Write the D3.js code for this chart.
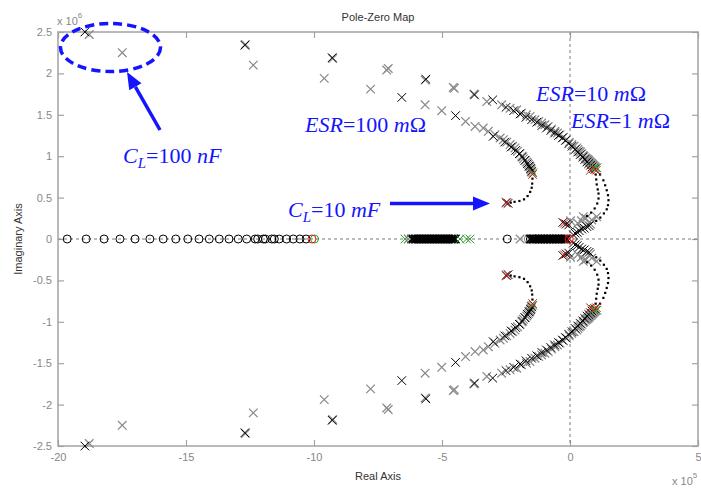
<!DOCTYPE html>
<html><head><meta charset="utf-8">
<script src="https://cdn.jsdelivr.net/npm/d3@7"></script>
<style>body{margin:0;background:#fff}svg{display:block}</style>
</head><body>
<svg id="c" width="701" height="488"></svg>
<script>
// ---- data (real part in 1e5, imaginary part in 1e6) ----
const xTicks = [-20, -15, -10, -5, 0, 5];
const yTicks = [-2.5, -2, -1.5, -1, -0.5, 0, 0.5, 1, 1.5, 2, 2.5];

// zeros on the real axis
const zerosBlack = [-19.64, -18.9, -18.2, -17.58, -16.99, -16.41, -15.89, -15.4, -14.93, -14.49, -14.09, -13.7, -13.32, -12.96, -12.63, -12.3, -12.2, -11.98, -11.9, -11.65, -11.55, -11.36, -11.07, -10.81, -10.55, -10.31, -2.45, -1.55];
const zerosGray = [-1.63];
const zerosRed = [-10.08, -0.03];
const zerosGreen = [-9.98];

// real-axis poles
const realPolesBlack = [-6.18, -6.12, -6.05, -5.99, -5.93, -5.86, -5.8, -5.74, -5.67, -5.61, -5.55, -5.48, -5.42, -5.36, -5.3, -5.23, -5.17, -5.11, -5.04, -4.98, -4.92, -4.85, -4.79, -4.73, -4.66, -4.6, -4.54, -4.48,
  -1.56, -1.5, -1.44, -1.38, -1.32, -1.26, -1.2, -1.14, -1.08, -1.02, -0.96, -0.9, -0.84, -0.78, -0.72, -0.66, -0.6, -0.54, -0.48, -0.42, -0.36, -0.3, -0.24, -0.18, -0.13];
const realPolesGray = [-6.32, -1.95];
const realPolesGreen = [-6.45, -4.3, -4.04, -3.91];
const realPolesRed = [-0.03];

// complex poles, upper half (mirrored below)
const outerGray = [[-18.78, 2.47], [-12.68, 2.35], [-9.27, 2.18], [-7.10, 2.06], [-7.16, 2.04], [-5.66, 1.92], [-4.56, 1.83], [-4.52, 1.82], [-3.75, 1.75], [-3.25, 1.66], [-2.67, 1.62], [-2.34, 1.58], [-2.08, 1.56], [-1.89, 1.52], [-1.70, 1.50], [-1.56, 1.48], [-1.37, 1.44], [-1.22, 1.42], [-1.11, 1.40], [-0.98, 1.38], [-0.85, 1.36], [-0.72, 1.33], [-0.59, 1.30], [-0.49, 1.28], [-0.39, 1.26], [-0.26, 1.23], [-0.13, 1.20], [-0.03, 1.17], [0.07, 1.14], [0.16, 1.12], [0.26, 1.10], [0.31, 1.08], [0.36, 1.06], [0.41, 1.05], [0.46, 1.03], [0.51, 1.01], [0.55, 1.00], [0.60, 0.98], [0.65, 0.97], [0.69, 0.96], [0.72, 0.95], [0.75, 0.94], [0.78, 0.93], [0.82, 0.92], [0.85, 0.91], [0.88, 0.90], [0.91, 0.89], [0.95, 0.88], [0.98, 0.87], [1.02, 0.86]];
const outerBlack = [[-18.95, 2.50], [-12.70, 2.34], [-9.29, 2.19], [-5.63, 1.93], [-3.73, 1.74], [-3.02, 1.68], [-2.50, 1.59], [-2.20, 1.55], [-1.95, 1.51], [-1.72, 1.47], [-1.50, 1.44], [-1.30, 1.41], [-1.10, 1.37], [-0.92, 1.34], [-0.75, 1.31], [-0.60, 1.28], [-0.45, 1.25], [-0.30, 1.22], [-0.18, 1.19], [-0.05, 1.15], [0.08, 1.12], [0.20, 1.08], [0.30, 1.05], [0.40, 1.02], [0.50, 0.99], [0.58, 0.96], [0.66, 0.93], [0.73, 0.91], [0.80, 0.89], [0.86, 0.87], [0.92, 0.85], [0.97, 0.84]];
const innerGray = [[-17.49, 2.25], [-12.37, 2.10], [-9.60, 1.94], [-7.79, 1.81], [-5.66, 1.62], [-5.01, 1.55], [-4.08, 1.42], [-3.71, 1.36], [-3.39, 1.34], [-3.19, 1.30], [-2.93, 1.26], [-2.73, 1.22], [-2.60, 1.20], [-2.47, 1.17], [-2.34, 1.14], [-2.24, 1.12], [-2.15, 1.10], [-2.05, 1.06], [-1.95, 1.03], [-1.88, 1.00], [-1.82, 0.97], [-1.75, 0.95], [-1.69, 0.93], [-1.62, 0.90], [-1.58, 0.88], [-1.56, 0.87], [-1.53, 0.85], [-1.52, 0.84], [-1.50, 0.81]];
const innerBlack = [[-6.57, 1.71], [-4.47, 1.49], [-3.00, 1.24], [-2.55, 1.17], [-2.30, 1.11], [-2.12, 1.07], [-1.98, 1.03], [-1.86, 0.99], [-1.76, 0.95], [-1.67, 0.91], [-1.60, 0.88], [-1.54, 0.85], [-1.50, 0.82], [-2.50, 0.44], [-2.42, 0.43], [-0.28, 0.20], [-0.15, 0.18], [-0.05, 0.17],
  [0.13, 0.05], [0.20, 0.07], [0.28, 0.08], [0.36, 0.10], [0.46, 0.12], [0.56, 0.13], [0.66, 0.15], [0.75, 0.16]];
const nearOriginGray = [[0.30, 0.19], [0.45, 0.22], [0.62, 0.25], [0.52, 0.27], [0.85, 0.23], [1.04, 0.27], [0.80, 0.18], [0.02, 0.22]];
const polesRed = [[-1.46, 0.78], [0.80, 0.83], [1.03, 0.83], [-2.47, 0.44], [-0.22, 0.19]];
const polesGreen = [[-1.45, 0.80], [0.92, 0.85], [1.05, 0.86]];

// dotted loci (upper half)
const dotsInner = [[-1.47, 0.73], [-1.48, 0.67], [-1.50, 0.62], [-1.56, 0.57], [-1.66, 0.52], [-1.80, 0.48], [-1.98, 0.46], [-2.17, 0.45], [-2.32, 0.44]];
const dotsOuterA = [[1.00, 0.78], [1.02, 0.72], [1.04, 0.66], [1.08, 0.60], [1.11, 0.55], [1.11, 0.49], [1.06, 0.43], [0.96, 0.37], [0.82, 0.32], [0.66, 0.28]];
const dotsOuterB = [[1.17, 0.78], [1.30, 0.71], [1.37, 0.65], [1.43, 0.59], [1.48, 0.53], [1.50, 0.47], [1.48, 0.41], [1.43, 0.36], [1.32, 0.31], [1.18, 0.26], [1.02, 0.22]];

// ---- drawing ----
const svg = d3.select("#c");
const L = 58, R = 698, T = 32, B = 446;
const x = d3.scaleLinear().domain([-20, 5]).range([L, R]);
const y = d3.scaleLinear().domain([-2.5, 2.5]).range([B, T]);
const mirror = a => a.concat(a.map(d => [d[0], -d[1]]));
const onAxis = a => a.map(v => [v, 0]);

svg.append("rect").attr("width", 701).attr("height", 488).attr("fill", "#fff");

const axisColor = "#a3a3a3", labelColor = "#888";
const fmt = d => String(d);
function styleAxis(g, showLabels) {
  g.select(".domain").remove();
  g.selectAll(".tick line").attr("stroke", axisColor).attr("stroke-width", 1.2);
  g.selectAll(".tick text").attr("fill", labelColor).style("font-family", "Arial, 'Liberation Sans', sans-serif").style("font-size", "11px");
  if (!showLabels) g.selectAll(".tick text").remove();
}
svg.append("g").attr("transform", `translate(0,${B})`)
  .call(d3.axisBottom(x).tickValues(xTicks).tickFormat(fmt).tickSize(-6).tickPadding(7)).call(g => styleAxis(g, true));
svg.append("g").attr("transform", `translate(0,${T})`)
  .call(d3.axisTop(x).tickValues(xTicks).tickSize(-6)).call(g => styleAxis(g, false));
svg.append("g").attr("transform", `translate(${L},0)`)
  .call(d3.axisLeft(y).tickValues(yTicks).tickFormat(fmt).tickSize(-6).tickPadding(6)).call(g => styleAxis(g, true));
svg.append("g").attr("transform", `translate(${R},0)`)
  .call(d3.axisRight(y).tickValues(yTicks).tickSize(-6)).call(g => styleAxis(g, false));

// dashed zero lines
svg.append("line").attr("x1", L).attr("x2", R).attr("y1", y(0)).attr("y2", y(0))
  .attr("stroke", "#7a7a7a").attr("stroke-dasharray", "3,3");
svg.append("line").attr("x1", x(0)).attr("x2", x(0)).attr("y1", T).attr("y2", B)
  .attr("stroke", "#7a7a7a").attr("stroke-dasharray", "3,3");

// frame
svg.append("rect").attr("x", L).attr("y", T).attr("width", R - L).attr("height", B - T)
  .attr("fill", "none").attr("stroke", axisColor).attr("stroke-width", 1.5);

const plot = svg.append("g");
const xPath = "M-4.3,-4.3L4.3,4.3M4.3,-4.3L-4.3,4.3";
function crosses(data, color, w) {
  plot.append("g").selectAll("path").data(data).join("path")
    .attr("d", xPath).attr("transform", d => `translate(${x(d[0])},${y(d[1])})`)
    .attr("fill", "none").attr("stroke", color).attr("stroke-width", w || 1);
}
function circles(data, color) {
  plot.append("g").selectAll("circle").data(data).join("circle")
    .attr("cx", d => x(d[0])).attr("cy", d => y(d[1])).attr("r", 4)
    .attr("fill", "none").attr("stroke", color).attr("stroke-width", 1);
}
function dots(data) {
  plot.append("g").selectAll("rect").data(data).join("rect")
    .attr("x", d => x(d[0]) - 1).attr("y", d => y(d[1]) - 1).attr("width", 2.2).attr("height", 2.2).attr("fill", "#000");
}

circles(onAxis(zerosBlack), "#000");
circles(onAxis(zerosGray), "#888");
crosses(mirror(outerGray), "#8a8a8a", 1.25);
crosses(mirror(innerGray), "#8a8a8a", 1.25);
crosses(mirror(nearOriginGray), "#8a8a8a", 1.25);
crosses(onAxis(realPolesGray), "#8a8a8a", 1.25);
crosses(mirror(outerBlack), "#000");
crosses(mirror(innerBlack), "#000");
crosses(onAxis(realPolesBlack), "#000", 1.3);
dots(mirror(dotsInner));
dots(mirror(dotsOuterA));
dots(mirror(dotsOuterB));
crosses(onAxis(realPolesGreen), "#2a9a2a");
crosses(mirror(polesGreen), "#2a9a2a");
circles(onAxis(zerosGreen), "#2a9a2a");
crosses(mirror(polesRed), "#e01010");
crosses(onAxis(realPolesRed), "#e01010");
circles(onAxis(zerosRed), "#e01010");

// texts
const sans = "Arial, 'Liberation Sans', sans-serif";
svg.append("text").attr("x", (L + R) / 2).attr("y", 21).attr("text-anchor", "middle")
  .style("font-family", sans).style("font-size", "11px").attr("fill", "#333").text("Pole-Zero Map");
svg.append("text").attr("x", (L + R) / 2).attr("y", 480).attr("text-anchor", "middle")
  .style("font-family", sans).style("font-size", "11px").attr("fill", "#333").text("Real Axis");
svg.append("text").attr("transform", `translate(22,${(T + B) / 2}) rotate(-90)`).attr("text-anchor", "middle")
  .style("font-family", sans).style("font-size", "11px").attr("fill", "#333").text("Imaginary Axis");
function expo(xp, yp, e) {
  const t = svg.append("text").attr("x", xp).attr("y", yp).style("font-family", sans).style("font-size", "11px").attr("fill", labelColor);
  t.append("tspan").text("x 10");
  t.append("tspan").attr("dy", -7).style("font-size", "8px").text(e);
}
expo(57, 25, "6");
expo(672, 485, "5");

// annotations
const blue = "#1414ff";
const serif = "'Liberation Serif', 'Times New Roman', serif";
function label(xp, yp, parts) {
  const t = svg.append("text").attr("x", xp).attr("y", yp).style("font-family", serif).style("font-size", "22px").attr("fill", blue);
  parts.forEach(p => {
    const s = t.append("tspan").text(p.t).style("font-style", p.i ? "italic" : "normal");
    if (p.sub) s.attr("dy", 5).style("font-size", "15px");
    if (p.up) s.attr("dy", -5);
  });
}
label(123, 163, [{t: "C", i: 1}, {t: "L", i: 1, sub: 1}, {t: "=100 ", up: 1}, {t: "nF", i: 1}]);
label(288, 217, [{t: "C", i: 1}, {t: "L", i: 1, sub: 1}, {t: "=10 ", up: 1}, {t: "mF", i: 1}]);
label(305, 132, [{t: "ESR", i: 1}, {t: "=100 "}, {t: "m", i: 1}, {t: "Ω"}]);
label(536, 101, [{t: "ESR", i: 1}, {t: "=10 "}, {t: "m", i: 1}, {t: "Ω"}]);
label(571, 128, [{t: "ESR", i: 1}, {t: "=1 "}, {t: "m", i: 1}, {t: "Ω"}]);

svg.append("ellipse").attr("cx", 110.5).attr("cy", 47.5).attr("rx", 50).attr("ry", 24)
  .attr("fill", "none").attr("stroke", blue).attr("stroke-width", 3.5).attr("stroke-dasharray", "9,5");

function arrow(x1, y1, x2, y2) {
  const dx = x2 - x1, dy = y2 - y1, len = Math.hypot(dx, dy), ux = dx / len, uy = dy / len;
  const hl = 17, hw = 7;
  const bx = x2 - ux * hl, by = y2 - uy * hl;
  svg.append("line").attr("x1", x1).attr("y1", y1).attr("x2", bx).attr("y2", by)
    .attr("stroke", blue).attr("stroke-width", 3.5);
  svg.append("path").attr("d", `M${x2},${y2}L${bx - uy * hw},${by + ux * hw}L${bx + uy * hw},${by - ux * hw}Z`).attr("fill", blue);
}
arrow(160, 130, 127, 72);
arrow(390, 203.5, 490, 203.5);
</script>
</body></html>
